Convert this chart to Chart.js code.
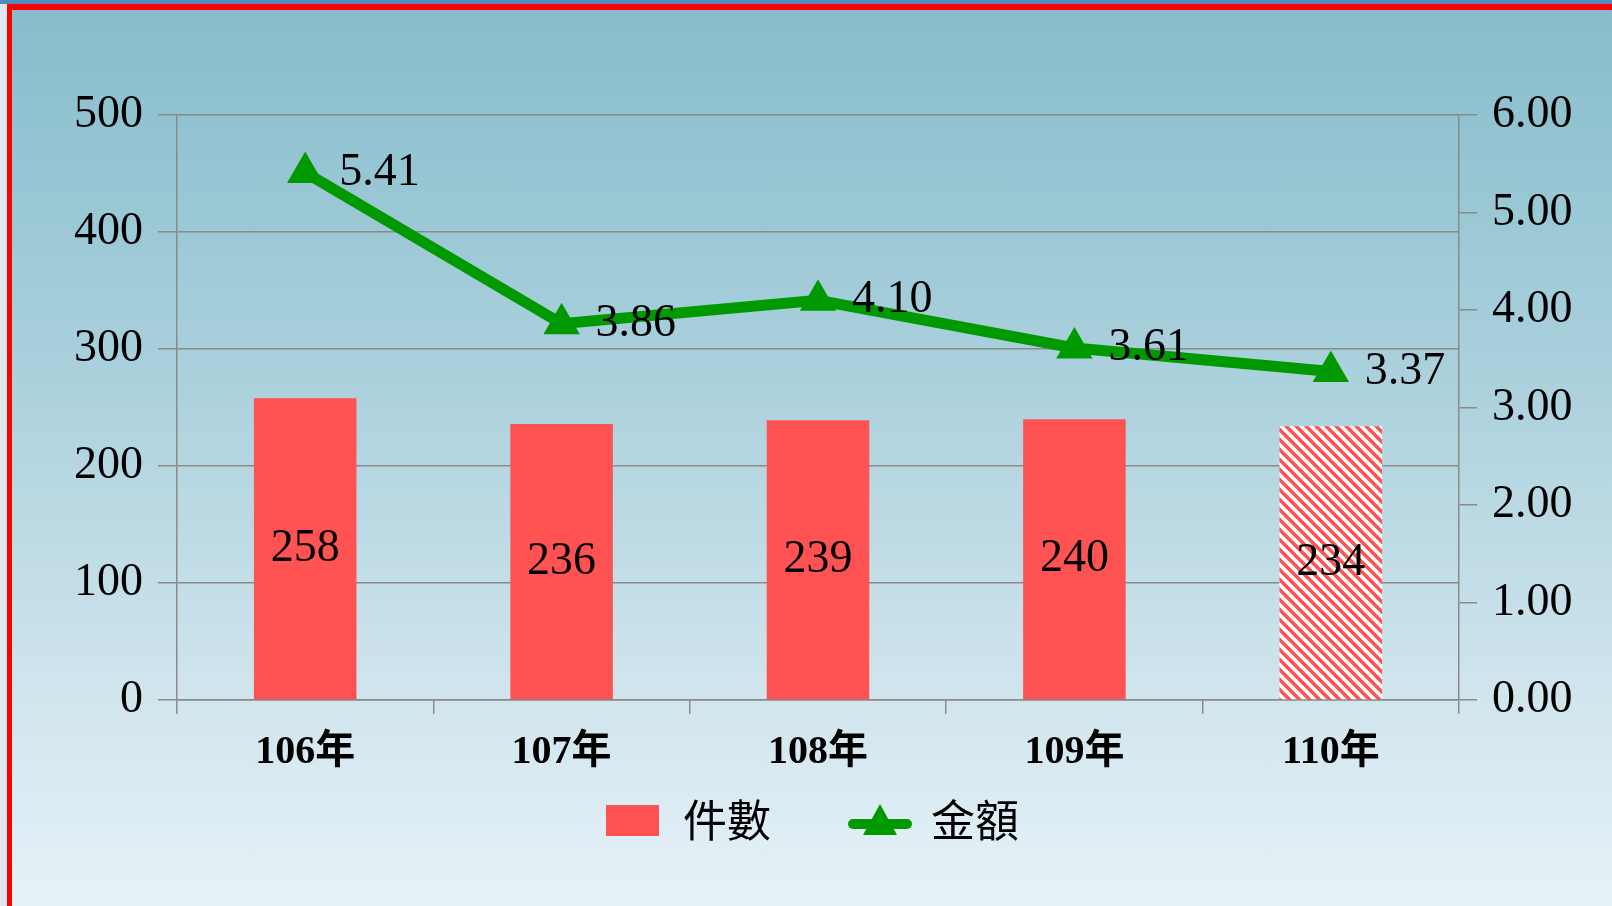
<!DOCTYPE html>
<html>
<head>
<meta charset="utf-8">
<script src="https://cdn.jsdelivr.net/npm/chart.js@4.4.1/dist/chart.umd.min.js"></script>
<style>
  html, body { margin: 0; padding: 0; }
  body {
    width: 1612px; height: 906px; overflow: hidden; position: relative;
    background: linear-gradient(to bottom, #86bccb 0%, #a9d0dc 40%, #cfe4ec 75%, #e7f2f8 100%);
  }
  #topStrip { position: absolute; left: 0; top: 0; width: 1612px; height: 4px; background: #4d8dc2; }
  #topRed { position: absolute; left: 7px; top: 4px; width: 1605px; height: 6px; background: #ff0000; }
  #leftStrip { position: absolute; left: 0; top: 4px; width: 7px; height: 902px; background: #dde8ee; }
  #leftRed { position: absolute; left: 7px; top: 4px; width: 5px; height: 902px; background: #ff0000; }
  #wrap { position: absolute; left: 0; top: 0; width: 1612px; height: 906px; }
</style>
</head>
<body>
<div id="topStrip"></div>
<div id="leftStrip"></div>
<div id="topRed"></div>
<div id="leftRed"></div>
<div id="wrap"><canvas id="chart" width="1612" height="906"></canvas></div>
<script>
    var categories = ['106年', '107年', '108年', '109年', '110年'];
    var caseCounts = [258, 236, 239, 240, 234];
    var amounts = [5.41, 3.86, 4.10, 3.61, 3.37];
    var countTicks = [0, 100, 200, 300, 400, 500];
    var amountTicks = [0, 1, 2, 3, 4, 5, 6];

    var barRed = '#ff5252';
    var lineGreen = '#009a00';
    var gridGray = '#8a8a8a';
    var serif = "'Liberation Serif', 'Times New Roman', 'Noto Sans CJK TC', serif";

    // diagonal red / white hatch for the last bar
    function makeHatch() {
        var c = document.createElement('canvas');
        c.width = 10; c.height = 10;
        var g = c.getContext('2d');
        g.fillStyle = '#ffffff';
        g.fillRect(0, 0, 10, 10);
        g.strokeStyle = barRed;
        g.lineWidth = 3.6;
        g.beginPath();
        g.moveTo(-5, -5); g.lineTo(15, 15);
        g.moveTo(-5, 5); g.lineTo(5, 15);
        g.moveTo(5, -5); g.lineTo(15, 5);
        g.stroke();
        return document.createElement('canvas').getContext('2d').createPattern(c, 'repeat');
    }

    function barIcon() {
        var c = document.createElement('canvas');
        c.width = 53; c.height = 31;
        var g = c.getContext('2d');
        g.fillStyle = barRed;
        g.fillRect(0, 0, 53, 31);
        return c;
    }

    function lineIcon() {
        var c = document.createElement('canvas');
        c.width = 66; c.height = 36;
        var g = c.getContext('2d');
        g.strokeStyle = lineGreen;
        g.lineWidth = 10;
        g.lineCap = 'round';
        g.beginPath(); g.moveTo(6, 22); g.lineTo(60, 22); g.stroke();
        g.fillStyle = lineGreen;
        g.beginPath(); g.moveTo(33, 2); g.lineTo(50, 33); g.lineTo(16, 33); g.closePath(); g.fill();
        return c;
    }

    var barColors = caseCounts.map(function (v, i) {
        return i === caseCounts.length - 1 ? makeHatch() : barRed;
    });

    var valueLabels = {
        id: 'valueLabels',
        afterDatasetsDraw: function (chart) {
            var ctx = chart.ctx;
            ctx.save();
            ctx.fillStyle = '#000';
            ctx.font = '46px ' + serif;
            ctx.textBaseline = 'middle';

            var barMeta = chart.getDatasetMeta(0);
            ctx.textAlign = 'center';
            barMeta.data.forEach(function (bar, i) {
                ctx.fillText(String(caseCounts[i]), bar.x, (bar.y + bar.base) / 2);
            });

            var lineMeta = chart.getDatasetMeta(1);
            ctx.textAlign = 'left';
            lineMeta.data.forEach(function (pt, i) {
                ctx.fillText(amounts[i].toFixed(2), pt.x + 34, pt.y);
            });
            ctx.restore();
        }
    };

    // the legend needs wide gaps between items, so pull it up closer to the axis
    var legendShift = {
        id: 'legendShift',
        afterLayout: function (chart) {
            if (chart.legend) {
                chart.legend.top -= 54;
                chart.legend.bottom -= 54;
                chart.legend.left += 5;
                chart.legend.right += 5;
            }
        }
    };

    var ctx = document.getElementById('chart').getContext('2d');
    window.myChart = new Chart(ctx, {
        type: 'bar',
        data: {
            labels: categories,
            datasets: [
                {
                    label: '件數',
                    data: caseCounts,
                    backgroundColor: barColors,
                    borderWidth: 0,
                    barPercentage: 0.4,
                    categoryPercentage: 1,
                    yAxisID: 'y',
                    order: 2
                },
                {
                    type: 'line',
                    label: '金額',
                    data: amounts,
                    borderColor: lineGreen,
                    backgroundColor: lineGreen,
                    borderWidth: 11,
                    tension: 0,
                    pointStyle: 'triangle',
                    pointRadius: 18,
                    pointBorderWidth: 3,
                    pointBackgroundColor: lineGreen,
                    pointBorderColor: lineGreen,
                    yAxisID: 'y1',
                    order: 1
                }
            ]
        },
        options: {
            responsive: false,
            animation: false,
            events: [],
            layout: { padding: { top: 115, bottom: 0, left: 0, right: 0 } },
            plugins: {
                tooltip: { enabled: false },
                legend: {
                    position: 'bottom',
                    labels: {
                        usePointStyle: true,
                        pointStyleWidth: 58,
                        padding: 80,
                        color: '#000',
                        font: { family: "'Noto Sans CJK TC', 'Noto Sans', sans-serif", size: 44 },
                        sort: function (a, b) { return a.datasetIndex - b.datasetIndex; },
                        generateLabels: function (chart) {
                            return chart.data.datasets.map(function (ds, i) {
                                return {
                                    text: ds.label,
                                    datasetIndex: i,
                                    pointStyle: i === 0 ? barIcon() : lineIcon(),
                                    fillStyle: i === 0 ? barRed : lineGreen,
                                    strokeStyle: 'transparent',
                                    lineWidth: 0,
                                    fontColor: '#000',
                                    hidden: false
                                };
                            });
                        }
                    }
                }
            },
            scales: {
                x: {
                    offset: true,
                    grid: { offset: true, drawOnChartArea: false, drawTicks: true, tickLength: 14, color: gridGray, lineWidth: 1.5 },
                    border: { display: true, color: gridGray, width: 1.5 },
                    ticks: { color: '#000', padding: 15, font: { family: serif, size: 40, weight: 'bold' } },
                    afterFit: function (scale) { scale.height = 72; }
                },
                y: {
                    position: 'left',
                    min: 0,
                    max: 500,
                    afterBuildTicks: function (scale) {
                        scale.ticks = countTicks.map(function (v) { return { value: v }; });
                    },
                    grid: { color: gridGray, lineWidth: 1.5, tickLength: 19 },
                    border: { display: true, color: gridGray, width: 1.5 },
                    ticks: { color: '#000', padding: 15, font: { family: serif, size: 46 } },
                    afterFit: function (scale) { scale.width = 177; }
                },
                y1: {
                    position: 'right',
                    min: 0,
                    max: 6,
                    afterBuildTicks: function (scale) {
                        scale.ticks = amountTicks.map(function (v) { return { value: v }; });
                    },
                    grid: { drawOnChartArea: false, color: gridGray, lineWidth: 1.5, tickLength: 18 },
                    border: { display: true, color: gridGray, width: 1.5 },
                    ticks: {
                        color: '#000', padding: 15, font: { family: serif, size: 46 },
                        callback: function (v) { return Number(v).toFixed(2); }
                    },
                    afterFit: function (scale) { scale.width = 1612 - 1459; }
                }
            }
        },
        plugins: [valueLabels, legendShift]
    });
</script>
</body>
</html>
